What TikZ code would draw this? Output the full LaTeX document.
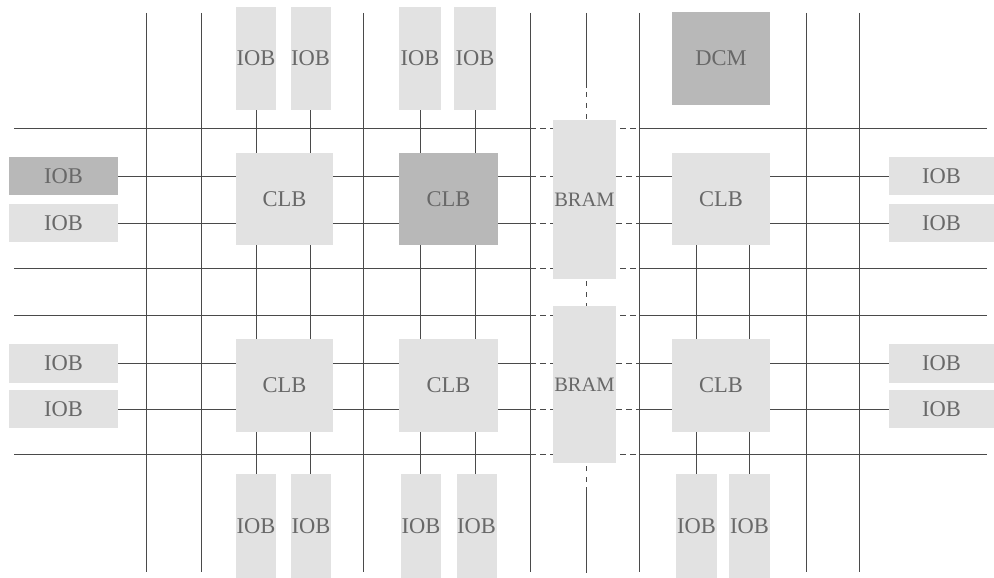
\documentclass[tikz,border=0pt]{standalone}
\usepackage{fontspec}
\setmainfont{Liberation Serif}
\definecolor{lightbox}{HTML}{E2E2E2}
\definecolor{darkbox}{HTML}{B8B8B8}
\definecolor{wire}{HTML}{4A4A4A}
\definecolor{txt}{HTML}{686868}
\tikzset{
  blk/.style={fill=lightbox, draw=none, inner sep=0pt, text=txt,
    font=\fontsize{22.5}{26}\selectfont},
  bram/.style={blk, font=\fontsize{20.5}{24}\selectfont},
  dark/.style={fill=darkbox},
  grid/.style={draw=wire, line width=0.8pt},
  wirel/.style={draw=wire, line width=0.8pt},
  dsh/.style={dash pattern=on 6pt off 4pt},
  dshv/.style={dash pattern=on 5pt off 6pt}
}
\begin{document}
\begin{tikzpicture}[x=1pt,y=-1pt]
\useasboundingbox (0,0) rectangle (994,578);
% grid verticals
\foreach \x in {146,201,363,530,639,806,859}
  \draw[grid] (\x,13) -- (\x,572);
% grid horizontals
\foreach \y in {128,268,315,454} {
  \draw[grid] (14,\y) -- (530,\y);
  \draw[grid,dsh] (530,\y) -- (639,\y);
  \draw[grid] (639,\y) -- (987,\y);
}
% center dash-dot line
\draw[grid] (586,13) -- (586,88);
\draw[grid,dshv] (586,92) -- (586,120);
\draw[grid,dshv] (586,281) -- (586,306);
\draw[grid,dshv] (586,466) -- (586,487);
\draw[grid] (586,487) -- (586,573);

% blocks
\node[blk, minimum width=40pt, minimum height=103pt] (t1) at (256,58.5) {IOB};
\node[blk, minimum width=40pt, minimum height=103pt] (t2) at (310.5,58.5) {IOB};
\node[blk, minimum width=42pt, minimum height=103pt] (t3) at (420,58.5) {IOB};
\node[blk, minimum width=42pt, minimum height=103pt] (t4) at (475,58.5) {IOB};
\node[blk, dark, minimum width=98pt, minimum height=93pt] (dcm) at (721,58.5) {DCM};

\node[blk, dark, minimum width=109pt, minimum height=38pt] (l1) at (63.5,176) {IOB};
\node[blk, minimum width=109pt, minimum height=38pt] (l2) at (63.5,223) {IOB};
\node[blk, minimum width=109pt, minimum height=39pt] (l3) at (63.5,363) {IOB};
\node[blk, minimum width=109pt, minimum height=38pt] (l4) at (63.5,409) {IOB};

\node[blk, minimum width=105pt, minimum height=38pt] (r1) at (941.5,176) {IOB};
\node[blk, minimum width=105pt, minimum height=38pt] (r2) at (941.5,223) {IOB};
\node[blk, minimum width=105pt, minimum height=39pt] (r3) at (941.5,363) {IOB};
\node[blk, minimum width=105pt, minimum height=38pt] (r4) at (941.5,409) {IOB};

\node[blk, minimum width=97pt, minimum height=92pt] (c1) at (284.5,199) {CLB};
\node[blk, dark, minimum width=99pt, minimum height=92pt] (c2) at (448.5,199) {CLB};
\node[blk, minimum width=98pt, minimum height=92pt] (c3) at (721,199) {CLB};
\node[blk, minimum width=97pt, minimum height=93pt] (c4) at (284.5,385.5) {CLB};
\node[blk, minimum width=99pt, minimum height=93pt] (c5) at (448.5,385.5) {CLB};
\node[blk, minimum width=98pt, minimum height=93pt] (c6) at (721,385.5) {CLB};

\node[bram, minimum width=63pt, minimum height=159pt] (b1) at (584.5,199.5) {BRAM};
\node[bram, minimum width=63pt, minimum height=157pt] (b2) at (584.5,384.5) {BRAM};

\node[blk, minimum width=40pt, minimum height=104pt] (d1) at (256,526) {IOB};
\node[blk, minimum width=40pt, minimum height=104pt] (d2) at (311,526) {IOB};
\node[blk, minimum width=40pt, minimum height=104pt] (d3) at (421,526) {IOB};
\node[blk, minimum width=40pt, minimum height=104pt] (d4) at (476.5,526) {IOB};
\node[blk, minimum width=41pt, minimum height=104pt] (d5) at (696.5,526) {IOB};
\node[blk, minimum width=41pt, minimum height=104pt] (d6) at (749.5,526) {IOB};

% split coordinates at routing channel edges
\coordinate (gL) at (530,0);
\coordinate (gR) at (639,0);

% horizontal wires, rows
\foreach \l/\r/\a/\b/\cl/\cr/\bb in {l1/r1/c1/c2/c3/c3/b1, l2/r2/c1/c2/c3/c3/b1, l3/r3/c4/c5/c6/c6/b2, l4/r4/c4/c5/c6/c6/b2} {
  \draw[wirel] (\l.east) -- (\l.east -| \a.west);
  \draw[wirel] (\l.east -| \a.east) -- (\l.east -| \b.west);
  \draw[wirel] (\l.east -| \b.east) -- (\l.east -| gL);
  \draw[wirel,dsh] (\l.east -| gL) -- (\l.east -| \bb.west);
  \draw[wirel,dsh] (\l.east -| \bb.east) -- (\l.east -| gR);
  \draw[wirel] (\l.east -| gR) -- (\l.east -| \cl.west);
  \draw[wirel] (\r.west -| \cr.east) -- (\r.west);
}

% vertical wires
\foreach \t/\d/\u/\v in {t1/d1/c1/c4, t2/d2/c1/c4, t3/d3/c2/c5, t4/d4/c2/c5} {
  \draw[wirel] (\t.south) -- (\t.south |- \u.north);
  \draw[wirel] (\t.south |- \u.south) -- (\t.south |- \v.north);
  \draw[wirel] (\t.south |- \v.south) -- (\t.south |- \d.north);
}
\foreach \d in {d5,d6} {
  \draw[wirel] (\d.north |- c3.south) -- (\d.north |- c6.north);
  \draw[wirel] (\d.north |- c6.south) -- (\d.north);
}
\end{tikzpicture}
\end{document}
